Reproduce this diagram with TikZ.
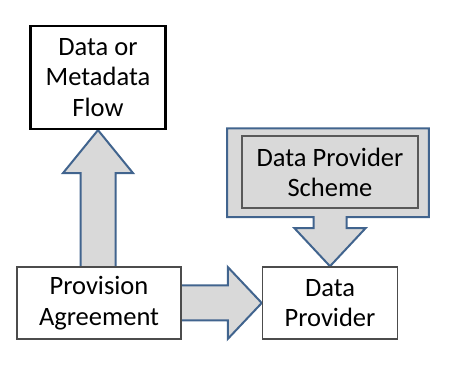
\documentclass[tikz,border=0pt]{standalone}
\usepackage{fontspec}
\setmainfont{Carlito}
\usetikzlibrary{positioning,calc,backgrounds}

\definecolor{arrowblue}{RGB}{65,100,142}
\definecolor{panelgray}{RGB}{217,217,217}

\begin{document}
\begin{tikzpicture}[x=1pt,y=-1pt,
    box/.style={rectangle, draw=black!70, line width=1.5pt, fill=white,
                align=center, inner sep=0pt, font=\fontsize{26.5}{30.5}\selectfont},
    fat/.style={draw=arrowblue, line width=2pt, fill=panelgray, line join=miter}]
  \useasboundingbox (0,0) rectangle (451,379);

  % Boxes
  \node[box, draw=black, line width=2.2pt, minimum width=135pt, minimum height=103pt] (flow) at (98,77.5) {Data or\\Metadata\\Flow};
  \node[box, minimum width=164pt, minimum height=72pt] (pa) at (99,303) {Provision\\Agreement};
  \node[box, minimum width=135pt, minimum height=72pt, right=80pt of pa] (dp) {Data\\Provider};
  \node[box, fill=panelgray, draw=black!65, line width=1.8pt, minimum width=176pt, minimum height=72pt, above=57pt of dp] (scheme) {Data Provider\\Scheme};

  % Helper points
  \coordinate (tl) at ($(scheme.north west)+(-14,-7)$);
  \coordinate (br) at ($(scheme.south east)+(10,8)$);
  \coordinate (hr) at ($(dp.north)+(16.5,-38)$);
  \coordinate (hl) at ($(dp.north)+(-16.5,-38)$);
  \coordinate (ub) at (flow.south |- pa.north);
  \coordinate (rb) at (pa.east |- dp.west);

  % Block arrows
  \begin{scope}[on background layer]
    \draw[fat] (tl) -- (tl -| br) -- (br) -- (br -| hr) -- (hr) -- ++(19,0) -- (dp.north)
      -- ($(hl)+(-19,0)$) -- (hl) -- (hl |- br) -- (tl |- br) -- cycle;
    \draw[fat] ($(ub)+(-17.5,0)$) -- ($(flow.south)+(-17.5,43)$) -- ++(-17.5,0) -- (flow.south)
      -- ($(flow.south)+(35,43)$) -- ++(-17.5,0) -- ($(ub)+(17.5,0)$);
    \draw[fat] ($(rb)+(0,-17.5)$) -- ($(dp.west)+(-34,-17.5)$) -- ++(0,-18.5) -- (dp.west)
      -- ($(dp.west)+(-34,36)$) -- ++(0,-18.5) -- ($(rb)+(0,17.5)$);
  \end{scope}
\end{tikzpicture}
\end{document}
